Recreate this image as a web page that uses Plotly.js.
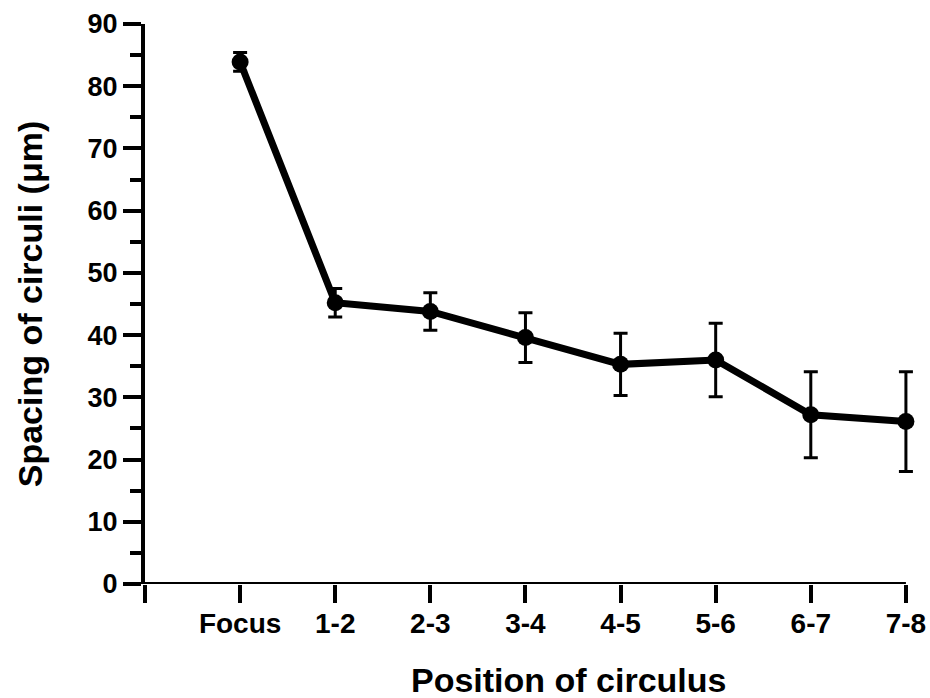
<!DOCTYPE html>
<html>
<head>
<meta charset="utf-8">
<script src="https://cdn.plot.ly/plotly-3.0.1.min.js"></script>
<style>html,body{margin:0;padding:0;background:#fff;}#chart{width:930px;height:698px;}</style>
</head>
<body>
<div id="chart"></div>
<script>
const categories = ['Focus', '1-2', '2-3', '3-4', '4-5', '5-6', '6-7', '7-8'];
const spacing = [83.9, 45.2, 43.8, 39.6, 35.3, 36.0, 27.2, 26.1];
const errors = [1.5, 2.3, 3.0, 4.0, 5.0, 5.9, 6.9, 8.0];
const yTickVals = [0, 10, 20, 30, 40, 50, 60, 70, 80, 90];
const xTitle = 'Position of circulus';
const yTitle = 'Spacing of circuli (μm)';

const xPos = categories.map((c, i) => i);
const xStart = -1;
const xEnd = xPos[xPos.length - 1];
const font = {family: 'Liberation Sans, Arial, sans-serif', color: '#000', weight: 700};

const trace = {
  x: xPos,
  y: spacing,
  type: 'scatter',
  mode: 'lines+markers',
  cliponaxis: false,
  line: {color: '#000', width: 7},
  marker: {color: '#000', size: 17},
  error_y: {type: 'data', array: errors, visible: true, color: '#000', thickness: 3, width: 7},
  showlegend: false
};

const layout = {
  width: 930, height: 698,
  margin: {l: 145, r: 16, t: 24, b: 114},
  paper_bgcolor: '#fff', plot_bgcolor: '#fff',
  font: font,
  xaxis: {
    range: [xStart, xEnd + 0.085],
    tickvals: [xStart].concat(xPos),
    ticktext: [''].concat(categories),
    showline: false,
    ticks: 'outside', ticklen: 18, tickwidth: 4, tickcolor: '#000',
    ticklabelstandoff: -4,
    showgrid: false, zeroline: false,
    tickfont: {family: font.family, size: 28, color: '#000', weight: 700}
  },
  yaxis: {
    range: [0, 90],
    tickvals: yTickVals,
    showline: true, linewidth: 4, linecolor: '#000',
    ticks: 'outside', ticklen: 18, tickwidth: 4, tickcolor: '#000',
    minor: {dtick: 5, tick0: 0, ticks: 'outside', ticklen: 11, tickwidth: 4, tickcolor: '#000', showgrid: false},
    showgrid: false, zeroline: false,
    tickfont: {family: font.family, size: 27, color: '#000', weight: 700},
    title: {text: yTitle, font: {family: font.family, size: 34, color: '#000', weight: 700}, standoff: 36}
  },
  shapes: [{
    type: 'line', xref: 'x', yref: 'y', x0: xStart, x1: xEnd, y0: 0, y1: 0,
    line: {color: '#000', width: 4}, layer: 'above'
  }],
  annotations: [{
    text: xTitle, xref: 'paper', yref: 'paper', x: 0.551, y: -0.171,
    xanchor: 'center', yanchor: 'middle', showarrow: false,
    font: {family: font.family, size: 34, color: '#000', weight: 700}
  }]
};

Plotly.newPlot('chart', [trace], layout, {displayModeBar: false, staticPlot: true});
</script>
</body>
</html>
